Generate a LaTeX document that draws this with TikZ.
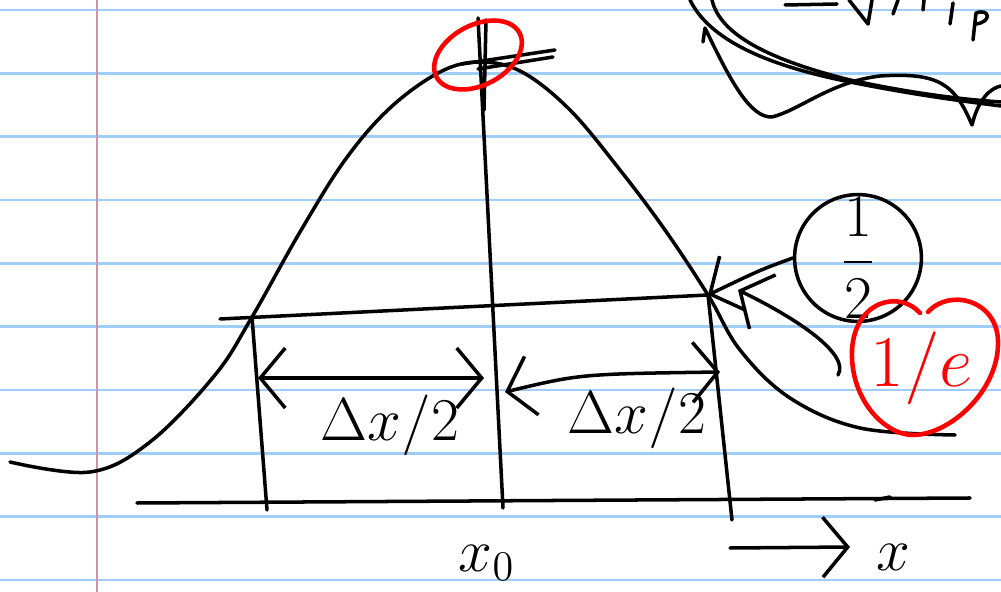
\documentclass[tikz,border=0pt]{standalone}
\usepackage{amsmath}
\usetikzlibrary{arrows.meta, positioning, calc}

\definecolor{ruleblue}{RGB}{160,205,245}
\definecolor{marginpink}{RGB}{200,150,170}
\tikzset{
  ink/.style={line width=1pt, line cap=round, line join=round},
  redink/.style={line width=1.3pt, draw=red, line cap=round},
  rule/.style={draw=ruleblue, line width=0.7pt},
  hand/.style={font=\fontsize{17}{20}\selectfont},
  barb/.style={-{Straight Barb[length=2.5mm,width=6mm]}},
  dblbarb/.style={{Straight Barb[length=2.5mm,width=6mm]}-{Straight Barb[length=2.5mm,width=6mm]}}
}

\begin{document}
\begin{tikzpicture}[x=0.1mm, y=-0.1mm]
    \useasboundingbox (0,0) rectangle (1001,592);
    \clip (0,0) rectangle (1001,592);
    \fill[white] (0,0) rectangle (1001,592);

    % notebook paper
    \foreach \k in {0,...,9}
        \draw[rule] (0,{10+63.33*\k}) -- (1001,{10+63.33*\k});
    \draw[draw=marginpink, line width=0.8pt] (97,0) -- (97,592);

    % key points
    \coordinate (peak) at (480,62);
    \coordinate (hl) at (252,317);
    \coordinate (hr) at (708,295);
    \coordinate (hm0) at (220,319);

    % the peak curve
    \draw[ink] plot[smooth, tension=0.6] coordinates {(10,462) (90,472) (150,442) (215,375) (hl)
        (300,232) (345,160) (390,108) (440,72) (peak) (522,72) (570,110) (620,170) (665,230) (hr)
        (740,350) (790,398) (860,428) (955,435)};

    % half height and the three verticals
    \draw[ink] (hm0) -- (hr);
    \draw[ink] (hl) -- (267,510);
    \draw[ink] (478,18) -- (503,508);
    \draw[ink] (486,20) -- (484,110);
    \draw[ink] (hr) -- (732,520);

    % x axis
    \coordinate (ax0) at (137,503);
    \coordinate (ax1) at (970,498);
    \draw[ink] (ax0) -- (ax1);
    \draw[ink] (875,500) -- (890,497);

    % widths
    \coordinate (al) at (258,378);
    \coordinate (am) at (484,378);
    \coordinate (bl) at (505,392);
    \coordinate (br) at (720,372);
    \draw[ink, dblbarb] (al) -- (am);
    \draw[ink, dblbarb] (bl) .. controls (580,374) .. (br);
    \node[hand] (dwl) at (390,425) {$\Delta x/2$};
    \node[hand] (dwr) at (637,418) {$\Delta x/2$};

    % labels under the axis
    \node[hand] (x0) at (487,563) {$x_0$};
    \coordinate (xa0) at (730,548);
    \coordinate (xa1) at (850,547);
    \draw[ink, barb] (xa0) -- (xa1);
    \node[hand] (xlab) at (893,557) {$x$};

    % maximum
    \draw[ink] (462,64) -- (555,50);
    \draw[ink] (478,69) -- (553,57);
    \draw[redink, rotate around={28:(478,55)}] (478,55) ellipse (47 and 30);

    % one half
    \node[ink, draw, circle, minimum size=10mm, inner sep=0pt, hand] (half) at (858,258) {$\dfrac{1}{2}$};
    \draw[ink, barb] (half.west) .. controls (760,270) .. (hr);
    \draw[ink, barb] (838,375) .. controls (850,355) and (800,320) .. ($(hr)+(30,-5)$);

    % 1/e in a heart
    \draw[redink] (920,313) .. controls (900,290) and (855,300) .. (852,350)
        .. controls (850,400) and (885,435) .. (913,435)
        .. controls (950,435) and (1000,390) .. (998,340)
        .. controls (996,300) and (950,288) .. (928,312);
    \node[hand, red, font=\fontsize{22}{24}\selectfont] (inve) at (922,368) {$1/e$};

    % scribbles at the top right
    \draw[ink] (690,0) .. controls (712,45) and (780,68) .. (850,82) .. controls (920,96) and (970,102) .. (1001,106);
    \draw[ink] (712,0) .. controls (720,35) and (770,60) .. (850,80) .. controls (920,95) and (970,100) .. (1001,102);
    \draw[ink] (703,42) -- (705,28) .. controls (730,80) and (750,118) .. (772,117)
        .. controls (800,110) and (830,82) .. (880,76)
        .. controls (940,72) and (955,85) .. (972,125)
        .. controls (978,100) and (990,88) .. (1001,86);
    \draw[ink] (785,5) -- (837,4);
    \draw[ink] (849,0) -- (868,24) -- (872,0);
    \draw[ink] (893,14) -- (898,0);
    \draw[ink] (923,10) -- (924,0);
    \draw[ink] (953,3) -- (950,24);
    \draw[ink] (976,13) -- (973,40);
    \draw[ink] (976,13) .. controls (990,8) and (992,22) .. (976,24);
\end{tikzpicture}
\end{document}
